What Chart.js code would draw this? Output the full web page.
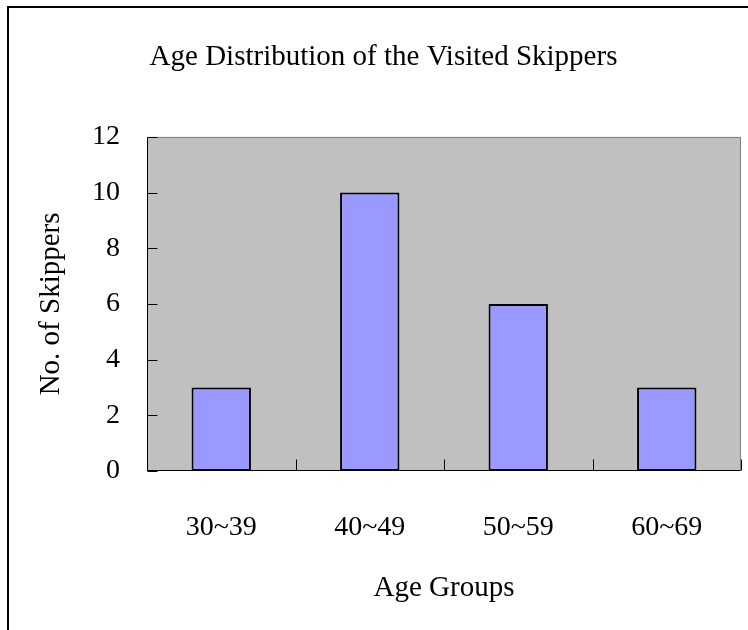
<!DOCTYPE html>
<html>
<head>
<meta charset="utf-8">
<script src="https://cdn.jsdelivr.net/npm/chart.js@4/dist/chart.umd.min.js"></script>
<style>
	body { margin: 0; background: #fff; }
	#wrap { width: 748px; height: 630px; }
</style>
</head>
<body>
<div id="wrap"><canvas id="ageChart" width="748" height="630"></canvas></div>
<script>
const ageGroups = ['30~39', '40~49', '50~59', '60~69'];
const skipperCounts = [3, 10, 6, 3];
const yTicks = [0, 2, 4, 6, 8, 10, 12];

const FONT = 'Liberation Serif';
Chart.defaults.font.family = FONT;
Chart.defaults.color = '#000';

// background, outer frame, plot border and the small inward ticks
const framePlugin = {
	id: 'frame',
	beforeDraw(chart) {
		const ctx = chart.ctx;
		const area = chart.chartArea;
		ctx.save();
		ctx.fillStyle = '#fff';
		ctx.fillRect(0, 0, chart.width, chart.height);
		ctx.strokeStyle = '#000';
		ctx.lineWidth = 2;
		ctx.strokeRect(8, 7, 800, 700);
		ctx.fillStyle = '#c0c0c0';
		ctx.fillRect(area.left, area.top, area.right - area.left, area.bottom - area.top);
		ctx.restore();
	},
	afterDatasetsDraw(chart) {
		const ctx = chart.ctx;
		const area = chart.chartArea;
		const xScale = chart.scales.x;
		const yScale = chart.scales.y;
		const L = Math.round(area.left) + 0.5;
		const R = Math.round(area.right) - 0.5;
		const T = Math.round(area.top) + 0.5;
		const B = Math.round(area.bottom) - 0.5;
		ctx.save();
		ctx.lineWidth = 1;
		ctx.strokeStyle = '#808080';
		ctx.beginPath();
		ctx.moveTo(L, T);
		ctx.lineTo(R, T);
		ctx.lineTo(R, B);
		ctx.stroke();

		ctx.strokeStyle = '#000';
		ctx.beginPath();
		ctx.moveTo(L, T);
		ctx.lineTo(L, B);
		ctx.lineTo(R, B);
		ctx.stroke();

		ctx.beginPath();
		yTicks.forEach(v => {
			const y = Math.round(yScale.getPixelForValue(v)) + 0.5;
			ctx.moveTo(L, y);
			ctx.lineTo(L + 10, y);
		});
		const half = (xScale.getPixelForValue(1) - xScale.getPixelForValue(0)) / 2;
		for (let i = 0; i <= ageGroups.length; i++) {
			const x = Math.round(xScale.getPixelForValue(i) - half) + 0.5;
			ctx.moveTo(x, B);
			ctx.lineTo(x, B - 11);
		}
		ctx.stroke();
		ctx.restore();
	}
};

const ctx = document.getElementById('ageChart').getContext('2d');
new Chart(ctx, {
	type: 'bar',
	data: {
		labels: ageGroups,
		datasets: [{
			data: skipperCounts,
			backgroundColor: '#9999ff',
			borderColor: '#000',
			borderWidth: 2,
			borderSkipped: false,
			barPercentage: 0.4,
			categoryPercentage: 1
		}]
	},
	options: {
		responsive: false,
		animation: false,
		devicePixelRatio: 1,
		layout: {
			padding: { left: 26, right: 7, top: 0, bottom: 0 }
		},
		scales: {
			x: {
				grid: { display: false, drawTicks: false },
				border: { display: false },
				ticks: {
					font: { size: 28 },
					color: '#000',
					padding: 40
				},
				title: {
					display: true,
					text: 'Age Groups',
					font: { size: 29 },
					color: '#000',
					padding: { top: 0, bottom: 24 }
				},
				afterFit: function(scale) {
					scale.height = 159;
				}
			},
			y: {
				min: 0,
				max: 12,
				grid: { display: false, drawTicks: false },
				border: { display: false },
				ticks: {
					stepSize: 2,
					font: { size: 28 },
					color: '#000',
					padding: 27
				},
				title: {
					display: true,
					text: 'No. of Skippers',
					font: { size: 29 },
					color: '#000',
					padding: { top: 8, bottom: 0 }
				},
				afterFit: function(scale) {
					scale.width = 121;
				}
			}
		},
		plugins: {
			legend: { display: false },
			tooltip: { enabled: false },
			title: {
				display: true,
				text: 'Age Distribution of the Visited Skippers',
				font: { size: 29, weight: 'normal' },
				color: '#000',
				padding: { top: 40, bottom: 62 }
			}
		}
	},
	plugins: [framePlugin]
});
</script>
</body>
</html>
